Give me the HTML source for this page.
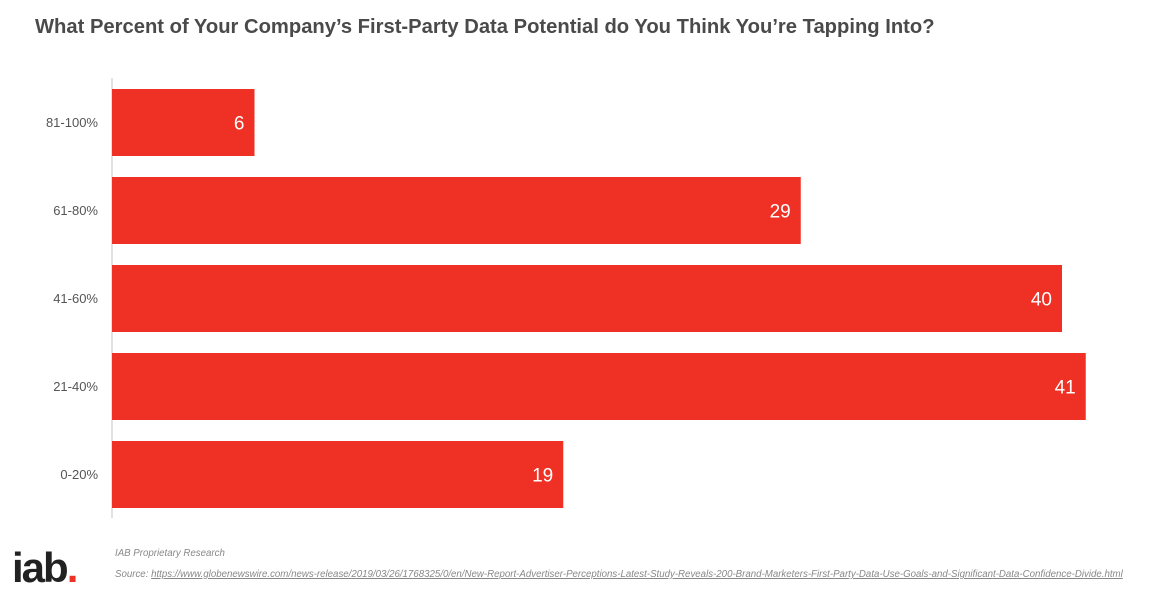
<!DOCTYPE html>
<html><head><meta charset="utf-8"><style>
body{margin:0;width:1165px;height:595px;background:#fff;font-family:"Liberation Sans",sans-serif;overflow:hidden;position:relative}
#title{position:absolute;left:35px;top:16px;font-size:20.2px;font-weight:bold;color:#4a4a4a}
.ft{position:absolute;left:115px;font-style:italic;color:#888;font-size:9.7px}
</style></head><body>
<div id="title">What Percent of Your Company’s First-Party Data Potential do You Think You’re Tapping Into?</div>
<svg id="chart" width="1165" height="530" style="position:absolute;left:0;top:0"></svg>
<div style="position:absolute;left:12px;top:547px;font-size:42px;font-weight:bold;color:#222;letter-spacing:-2px;line-height:42px">iab<span style="color:#ee3124">.</span></div>
<div class="ft" style="top:548px">IAB Proprietary Research</div>
<div class="ft" style="top:569px">Source: <u>https://www.globenewswire.com/news-release/2019/03/26/1768325/0/en/New-Report-Advertiser-Perceptions-Latest-Study-Reveals-200-Brand-Marketers-First-Party-Data-Use-Goals-and-Significant-Data-Confidence-Divide.html</u></div>
<script>
const categories=["81-100%","61-80%","41-60%","21-40%","0-20%"];
const values=[6,29,40,41,19];
const svg=document.getElementById('chart');const NS='http://www.w3.org/2000/svg';
const x0=112,scale=23.75,top0=78,band=88,bh=67;
const xs=v=>x0+v*scale;const ys=i=>top0+i*band+11;
function mk(t,a){const e=document.createElementNS(NS,t);for(const k in a)e.setAttribute(k,a[k]);svg.appendChild(e);return e;}
const ax=mk('line',{x1:x0,x2:x0,y1:top0,y2:top0+band*categories.length,stroke:'#d9d9d9','stroke-width':1.5});


categories.forEach((c,i)=>{
const r=mk('rect',{x:x0,y:ys(i),width:xs(values[i])-x0,height:bh,fill:'#ee3124'});


const l=mk('text',{x:98,y:ys(i)+bh/2+4.5,'text-anchor':'end','font-size':13,fill:'#555'});l.textContent=c;


const v=mk('text',{x:xs(values[i])-10,y:ys(i)+bh/2+7,'text-anchor':'end','font-size':19,fill:'#fff'});v.textContent=values[i];


});
</script>
</body></html>
